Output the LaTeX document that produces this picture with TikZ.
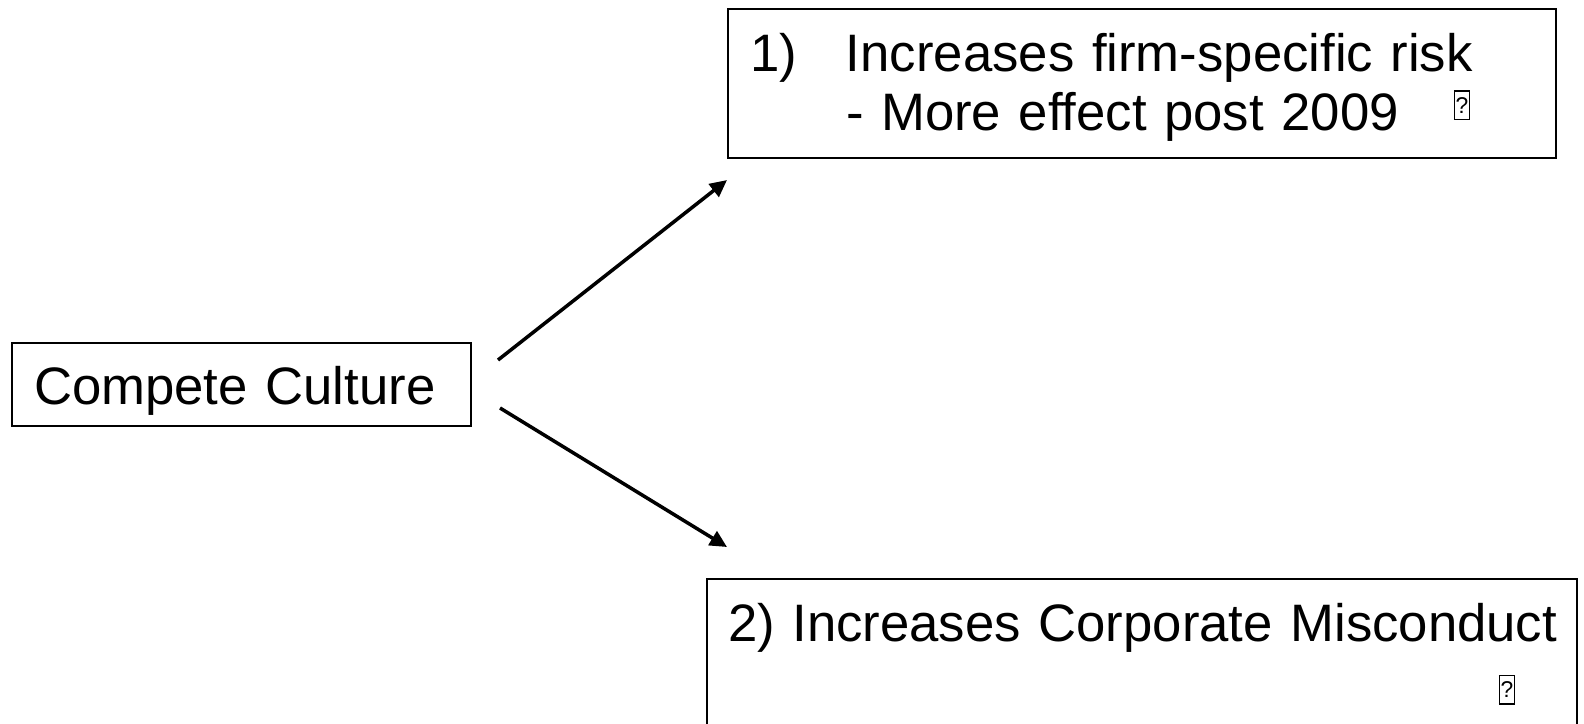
\documentclass[tikz,border=0pt]{standalone}
\usepackage{fontspec}
\setmainfont{Liberation Sans}
\usepackage{tikz}
\usetikzlibrary{arrows.meta}

% boxed question mark as printed for a missing glyph
\newcommand{\qglyph}[1]{\raisebox{#1}{\fboxsep=0pt\fboxrule=0.8pt\fbox{\parbox[b][0.54cm][c]{0.27cm}{\centering\fontsize{13}{13}\selectfont ?}}}}

\begin{document}
\begin{tikzpicture}[x=0.02cm, y=-0.02cm,
    every node/.style={font=\fontsize{30}{34}\selectfont},
    box/.style={draw, line width=1.2pt, inner ysep=0pt, align=left},
    arrow/.style={line width=2pt, -{Triangle[length=0.34cm, width=0.32cm]}}]
    \useasboundingbox (0,0) rectangle (1584,723);

    \node[box, anchor=base west, minimum width=9.18cm, minimum height=1.66cm,
          inner xsep=0.44cm, text width=8.3cm, text height=26pt, text depth=3.8pt]
          (culture) at (11,404) {Compete Culture};

    \node[box, anchor=north west, minimum width=16.56cm, minimum height=2.98cm,
          inner xsep=0.44cm, text width=15.68cm]
          (risk) at (727,8)
          {\rule{0pt}{26pt}\makebox[1.92cm][l]{1)}Increases firm-specific risk\\
           \hspace*{1.92cm}- More effect post 2009\hspace{1.1cm}\qglyph{0.24cm}};

    \node[box, anchor=north west, minimum width=17.4cm, minimum height=3.5cm,
          inner xsep=0.42cm, text width=16.56cm]
          (misconduct) at (706,578)
          {\mbox{2) Increases Corporate Misconduct}\\
           \hspace*{15.42cm}\qglyph{-0.04cm}\rule[-16pt]{0pt}{1pt}};

    \draw[arrow] ([shift={(26,-24.5)}]culture.east) -- ([shift={(0,21)}]risk.south west);
    \draw[arrow] ([shift={(28,23.5)}]culture.east) -- ([shift={(21,-31)}]misconduct.north west);
\end{tikzpicture}
\end{document}
